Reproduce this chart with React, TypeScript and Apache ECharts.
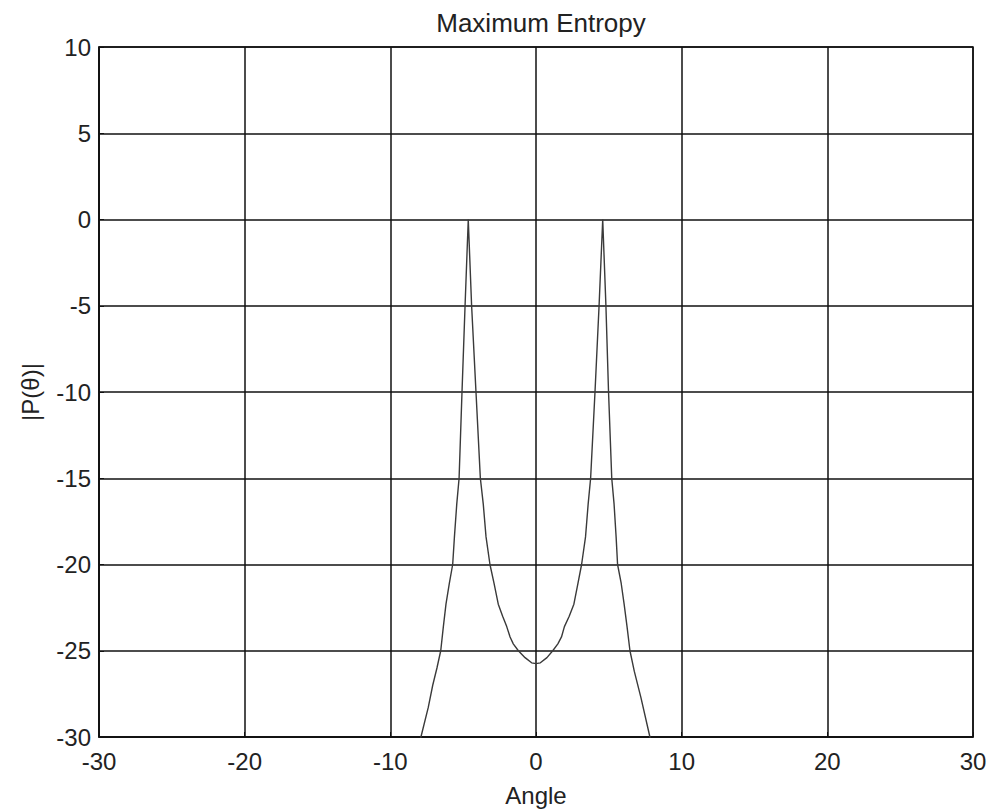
import React, { useEffect, useRef } from "react";
import * as echarts from "echarts";

const titleText = "Maximum Entropy";
const xName = "Angle";
const yName = "|P(θ)|";

const angles = [
  -8.3, -7.9, -7.4, -7.09, -6.8, -6.54, -6.36, -6.18, -5.95, -5.72, -5.6, -5.44, -5.28,
  -5.08, -4.87, -4.65,
  -4.42, -4.12, -3.82, -3.62, -3.43, -3.16, -2.88, -2.59, -2.29, -2.01, -1.78, -1.56,
  -1.21, -0.75, -0.3, 0,
  0.3, 0.75, 1.15, 1.5, 1.75, 1.95, 2.28, 2.6, 2.88, 3.13, 3.4, 3.58, 3.75,
  4.05, 4.33, 4.58,
  4.8, 4.98, 5.2, 5.36, 5.5, 5.6, 5.85, 6.05, 6.25, 6.45, 6.75, 7.2, 7.82, 8.2,
];
const power = [
  -31.5, -30, -28.3, -27.0, -26.0, -25, -23.6, -22.3, -21.1, -20, -18.4, -16.5, -15,
  -10, -5, 0,
  -5, -10, -15, -16.5, -18.4, -20, -21.1, -22.3, -23.0, -23.6, -24.2, -24.6,
  -25.0, -25.4, -25.7, -25.75,
  -25.7, -25.4, -25.0, -24.6, -24.2, -23.6, -23.0, -22.3, -21.1, -20, -18.4, -16.5, -15,
  -10, -5, 0,
  -5, -10, -15, -16.5, -18.4, -20, -21.1, -22.3, -23.6, -25, -26.2, -27.7, -30, -31.5,
];

const font = "'Liberation Sans', Arial, sans-serif";

export default function App() {
  const ref = useRef<HTMLDivElement>(null);
  useEffect(() => {
    if (!ref.current) return;
    const chart = echarts.init(ref.current, null, { renderer: "svg" });
    const data = angles.map((a, i) => [a, power[i]]);
    chart.setOption({
      animation: false,
      backgroundColor: "#fff",
      title: {
        text: titleText,
        left: 536,
        textAlign: "center",
        top: 5,
        textStyle: { fontFamily: font, fontSize: 26, fontWeight: "normal", color: "#222" },
      },
      grid: {
        left: 99,
        right: 18,
        top: 47,
        bottom: 75,
        show: true,
        borderColor: "#111",
        borderWidth: 1.5,
        backgroundColor: "#fff",
      },
      xAxis: {
        type: "value",
        min: -30,
        max: 30,
        interval: 10,
        name: xName,
        nameLocation: "middle",
        nameGap: 46,
        nameTextStyle: { fontFamily: font, fontSize: 24, color: "#222" },
        axisLine: { show: true, onZero: false, lineStyle: { color: "#111", width: 1.5 } },
        axisTick: { show: true, inside: true, length: 5, lineStyle: { color: "#111" } },
        axisLabel: { fontFamily: font, fontSize: 24, color: "#222", margin: 12 },
        splitLine: { show: true, lineStyle: { color: "#111", width: 1.5 } },
      },
      yAxis: {
        type: "value",
        min: -30,
        max: 10,
        interval: 5,
        name: yName,
        nameLocation: "middle",
        nameGap: 57,
        nameTextStyle: { fontFamily: font, fontSize: 24, color: "#222" },
        axisLine: { show: true, onZero: false, lineStyle: { color: "#111", width: 1.5 } },
        axisTick: { show: true, inside: true, length: 5, lineStyle: { color: "#111" } },
        axisLabel: { fontFamily: font, fontSize: 24, color: "#222", margin: 8 },
        splitLine: { show: true, lineStyle: { color: "#111", width: 1.5 } },
      },
      series: [
        {
          type: "line",
          data,
          showSymbol: false,
          smooth: false,
          clip: true,
          lineStyle: { color: "#3a3a3a", width: 1.4 },
        },
      ],
    });
    return () => chart.dispose();
  }, []);
  return (
    <div
      ref={ref}
      style={{ position: "absolute", left: 0, top: 0, width: 991, height: 812 }}
    />
  );
}
